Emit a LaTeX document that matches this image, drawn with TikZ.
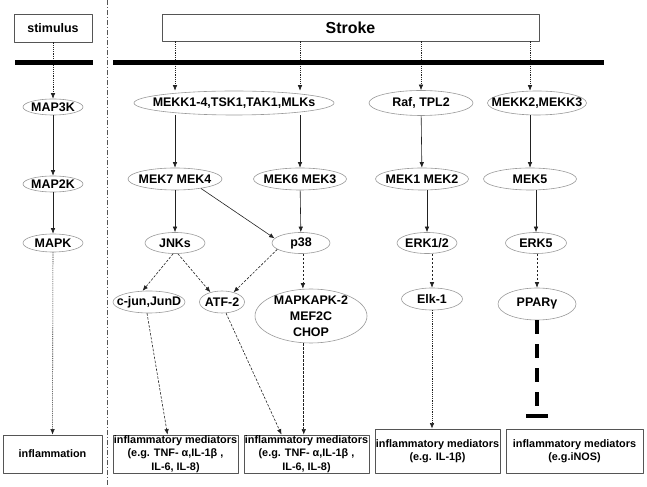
\documentclass[tikz,border=0pt]{standalone}
\usepackage{fontspec}
\setmainfont{Liberation Sans}
\usetikzlibrary{shapes.geometric,arrows.meta}
\definecolor{linegray}{HTML}{222222}
\definecolor{boxgray}{HTML}{555555}
\definecolor{ellgray}{HTML}{9A9A9A}
\tikzset{
  ell/.style={ellipse,draw=ellgray,line width=0.6bp,inner xsep=-80bp,inner ysep=-40bp,
    font=\fontsize{12.5}{16}\selectfont\bfseries,align=center},
  outbox/.style={rectangle,draw=boxgray,line width=0.8bp,inner sep=0pt,
    font=\fontsize{10.9}{13.5}\selectfont\bfseries,align=center},
  solidarr/.style={linegray,line width=0.6bp,->},
  dasharr/.style={linegray,line width=0.6bp,->,dash pattern=on 2.5bp off 1.5bp},
  dotarr/.style={linegray,line width=0.6bp,->,dash pattern=on 1.2bp off 1bp},
  inhibit/.style={black,line width=4bp,-{Bar[width=22bp]},dash pattern=on 14bp off 10bp},
}
\begin{document}
\begin{tikzpicture}[>={Latex[length=5.5bp,width=4.5bp]},line join=bevel]
\useasboundingbox (0bp,0bp) rectangle (647bp,487bp);
%%
\node (stimulus) at (53bp,459bp) [outbox,minimum width=78bp,minimum height=28bp,font=\fontsize{12.5}{14}\selectfont\bfseries] {stimulus};
  \node (stroke) at (350.5bp,459.5bp) [outbox,minimum width=377bp,minimum height=27bp,font=\fontsize{16}{18}\selectfont\bfseries] {Stroke};
  \node (map3k) at (53bp,380bp) [ell,minimum width=60bp,minimum height=16bp] {MAP3K};
  \node (mekk) at (234bp,384bp) [ell,minimum width=200bp,minimum height=24bp] {MEKK1-4,TSK1,TAK1,MLKs};
  \node (raf) at (421bp,384bp) [ell,minimum width=104bp,minimum height=25bp] {Raf, TPL2};
  \node (mekk23) at (537bp,384bp) [ell,minimum width=99bp,minimum height=24bp] {MEKK2,MEKK3};
  \node (map2k) at (53bp,303bp) [ell,minimum width=60bp,minimum height=16bp] {MAP2K};
  \node (mek74) at (175bp,308bp) [ell,minimum width=94bp,minimum height=22bp] {MEK7 MEK4};
  \node (mek63) at (300bp,308bp) [ell,minimum width=93bp,minimum height=22bp] {MEK6 MEK3};
  \node (mek12) at (422bp,308bp) [ell,minimum width=93bp,minimum height=22bp] {MEK1 MEK2};
  \node (mek5) at (530bp,308bp) [ell,minimum width=93bp,minimum height=22bp] {MEK5};
  \node (mapk) at (53bp,244bp) [ell,minimum width=60bp,minimum height=18bp] {MAPK};
  \node (jnks) at (175bp,244bp) [ell,minimum width=60bp,minimum height=21bp] {JNKs};
  \node (p38) at (301bp,244bp) [ell,minimum width=58bp,minimum height=21bp] {p38};
  \node (erk12) at (427bp,244bp) [ell,minimum width=60bp,minimum height=21bp] {ERK1/2};
  \node (erk5) at (536bp,244bp) [ell,minimum width=61bp,minimum height=21bp] {ERK5};
  \node (cjun) at (149bp,185bp) [ell,minimum width=72bp,minimum height=22bp] {c-jun,JunD};
  \node (atf2) at (222bp,185bp) [ell,minimum width=45bp,minimum height=22bp] {ATF-2};
  \node (mapkapk) at (311bp,171bp) [ell,minimum width=112bp,minimum height=54bp] {MAPKAPK-2\\MEF2C\\CHOP};
  \node (elk1) at (432bp,188bp) [ell,minimum width=61bp,minimum height=22bp] {Elk-1};
  \node (ppar) at (537bp,183bp) [ell,minimum width=78bp,minimum height=32bp] {PPARγ};
  \node (inflam) at (52.5bp,33bp) [outbox,minimum width=99bp,minimum height=38bp] {inflammation};
  \node (box1) at (175.5bp,33bp) [outbox,minimum width=125bp,minimum height=38bp] {inflammatory mediators\\(e.g. TNF- α,IL-1β ,\\IL-6, IL-8)};
  \node (box2) at (306.5bp,33bp) [outbox,minimum width=125bp,minimum height=38bp] {inflammatory mediators\\(e.g. TNF- α,IL-1β ,\\IL-6, IL-8)};
  \node (box3) at (437.5bp,36bp) [outbox,minimum width=125bp,minimum height=44bp] {inflammatory mediators\\(e.g. IL-1β)};
  \node (box4) at (574.5bp,36bp) [outbox,minimum width=137bp,minimum height=44bp] {inflammatory mediators\\(e.g.iNOS)};
  % stimulus and stroke
  \draw [dotarr] (stimulus) -- (map3k);
  \draw [dotarr] (stroke.south -| mek74) -- (mekk.north -| mek74);
  \draw [dotarr] (stroke.south -| mek63) -- (mekk.north -| mek63);
  \draw [dotarr] (stroke.south -| raf) -- (raf);
  \draw [dotarr] (stroke.south -| mek5) -- (mekk23.north -| mek5);
  % kinase cascade
  \draw [solidarr] (map3k) -- (map2k);
  \draw [solidarr] (mekk.south -| mek74) -- (mek74);
  \draw [solidarr] (mekk.south -| mek63) -- (mek63);
  \draw [solidarr] (raf) -- (mek12);
  \draw [solidarr] (mekk23.south -| mek5) -- (mek5);
  \draw [solidarr] (map2k) -- (mapk);
  \draw [solidarr] (mek74) -- (jnks);
  \draw [solidarr] (mek74.-20) -- (p38.170);
  \draw [solidarr] (mek63) -- (p38);
  \draw [solidarr] (erk12.north |- mek12.south) -- (erk12);
  \draw [solidarr] (erk5.north |- mek5.south) -- (erk5);
  % transcription factors
  \draw [dasharr] (jnks.-100) -- (cjun.120);
  \draw [dasharr] (jnks.-75) -- (atf2.140);
  \draw [dasharr] (p38.-165) -- (atf2.40);
  \draw [dasharr] (p38.-80) -- (p38.-80 |- mapkapk.north);
  \draw [dasharr] (elk1.north |- erk12.south) -- (elk1);
  \draw [dasharr] (ppar.north |- erk5.south) -- (ppar);
  % mediators
  \draw [dotarr] (mapk) -- (inflam);
  \draw [dasharr] (cjun.-100) -- ([xshift=-8bp]box1.north);
  \draw [dasharr] (atf2.-70) -- ([xshift=-25bp]box2.north);
  \draw [dasharr] (mapkapk.-105) -- (mapkapk.-105 |- box2.north);
  \draw [dotarr] (elk1) -- (box3.north -| elk1);
  \draw [inhibit] (ppar) -- ([yshift=11bp]box4.north -| ppar);
  % separators
  \draw [boxgray,line width=0.6bp,dash pattern=on 5bp off 2bp on 1bp off 2bp] (107bp,487bp) -- (107bp,0bp);
  \draw [black,line width=5.5bp] (15bp,424.5bp) -- (93bp,424.5bp);
  \draw [black,line width=5.5bp] (113bp,424.5bp) -- (604bp,424.5bp);
%
\end{tikzpicture}
\end{document}
